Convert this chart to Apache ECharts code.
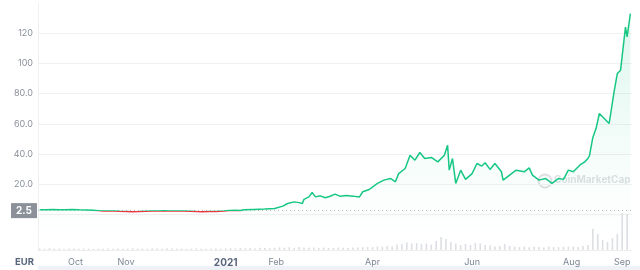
<!DOCTYPE html>
<html>
<head>
<meta charset="utf-8">
<script src="https://cdn.jsdelivr.net/npm/echarts@6/dist/echarts.min.js"></script>
<style>
html,body{margin:0;padding:0;background:#fff;}
#c{width:640px;height:270px;}
</style>
</head>
<body>
<div id="c"></div>
<script>
// ---- price (EUR) ----
var priceDates = [
'2020-09-09','2020-09-13','2020-09-17','2020-09-21','2020-09-25','2020-09-29','2020-10-03','2020-10-08','2020-10-12','2020-10-15',
'2020-10-18','2020-10-25','2020-10-28','2020-11-01','2020-11-05','2020-11-09','2020-11-13','2020-11-17','2020-11-21','2020-11-24',
'2020-11-28','2020-12-02','2020-12-06','2020-12-10','2020-12-14','2020-12-18','2020-12-22','2020-12-26','2020-12-31','2021-01-03',
'2021-01-07','2021-01-10','2021-01-12','2021-01-18','2021-01-25','2021-01-31','2021-02-05','2021-02-08','2021-02-12','2021-02-15',
'2021-02-17','2021-02-18','2021-02-21','2021-02-23','2021-02-25','2021-02-28','2021-03-03','2021-03-06','2021-03-09','2021-03-12',
'2021-03-16','2021-03-20','2021-03-24','2021-03-26','2021-03-30','2021-04-04','2021-04-08','2021-04-12','2021-04-15','2021-04-17',
'2021-04-21','2021-04-24','2021-04-27','2021-04-30','2021-05-03','2021-05-07','2021-05-11','2021-05-15','2021-05-17','2021-05-18',
'2021-05-20','2021-05-22','2021-05-25','2021-05-28','2021-06-01','2021-06-04','2021-06-05','2021-06-07','2021-06-09','2021-06-12',
'2021-06-15','2021-06-19','2021-06-20','2021-06-24','2021-06-28','2021-07-03','2021-07-06','2021-07-08','2021-07-12','2021-07-16',
'2021-07-20','2021-07-24','2021-07-27','2021-07-30','2021-08-02','2021-08-06','2021-08-09','2021-08-11','2021-08-12','2021-08-14',
'2021-08-16','2021-08-18','2021-08-21','2021-08-24','2021-08-27','2021-08-29','2021-08-31','2021-09-03','2021-09-04','2021-09-06'
];
var priceValues = [
3.1,3.0,3.2,3.0,3.1,3.2,3.0,2.9,2.7,2.5,
2.3,2.2,2.1,2.0,1.8,1.9,2.1,2.2,2.3,2.4,
2.3,2.2,2.3,2.1,1.9,1.8,1.9,2.0,2.2,2.6,
2.8,2.6,3.1,3.3,3.5,3.9,5.5,7.2,8.3,7.8,
7.2,10.0,11.6,14.5,11.6,12.3,11.0,12.0,13.4,12.1,
12.5,12.1,11.6,15.0,16.5,20.5,22.7,23.8,21.6,27.0,
30.4,39.2,35.9,41.0,37.0,37.7,34.8,39.2,45.8,29.3,
37.0,20.5,29.3,23.2,27.0,33.7,34.8,32.0,34.2,29.8,
33.7,28.2,22.7,26.0,29.3,28.2,30.8,26.0,22.7,23.8,
20.5,23.8,23.2,29.3,28.2,32.6,34.8,37.0,39.2,51.0,
57.0,66.8,63.5,60.2,81.2,93.3,95.5,124,117.6,133
];
var basePrice = 2.5;

// ---- volume (one bar every 3 days from volStart) ----
var volStart = [2020, 8, 9];
var volStepDays = 3;
var volValues = [
1.5,1.2,1.8,1.3,1.5,1.1,1.4,1.6,
1.2,1.5,1.3,1.1,1.4,1.2,1.6,1.3,1.5,1.2,
1.4,1.8,1.3,1.5,1.2,1.6,1.4,1.3,1.7,1.5,
1.3,1.5,1.2,1.4,1.6,1.3,1.2,1.5,1.4,1.3,
1.6,1.8,1.5,2.0,1.7,1.9,1.6,2.2,2.0,1.8,
2.2,2.6,2.3,2.8,2.2,3.0,2.5,2.3,2.6,2.2,2.4,
2.2,2.0,2.5,2.3,2.0,2.6,2.4,2.8,
3.0,2.8,3.5,3.2,4.0,3.6,5.5,6.0,7.5,6.5,
7.0,6.0,6.5,5.5,9.0,13.0,11.0,8.0,6.5,5.0,6.0,
5.0,7.0,6.5,5.0,4.5,3.5,4.0,6.0,4.0,3.5,
3.0,3.5,2.8,3.2,3.0,2.6,3.4,3.0,2.8,3.2,
3.2,3.5,3.0,4.0,
5.0,21.0,16.0,10.0,8.0,12.0,16.0,37.0,36.0
];

// ---- axis ----
var axisMin = [2020, 8, 8];
var axisMax = [2021, 8, 7];
var tickDates = [[2020,9,1],[2020,10,1],[2021,0,1],[2021,1,1],[2021,3,1],[2021,5,1],[2021,7,1],[2021,8,1]];
var tickNames = ['Oct','Nov','2021','Feb','Apr','Jun','Aug','Sep'];
var currency = 'EUR';

function ts(a){ return new Date(a[0], a[1], a[2]).getTime(); }
var tickTs = tickDates.map(ts);
var priceData = priceDates.map(function(d, i){
  var p = d.split('-');
  return [new Date(+p[0], +p[1]-1, +p[2]).getTime(), priceValues[i]];
});
var volData = volValues.map(function(v, i){
  return [new Date(volStart[0], volStart[1], volStart[2] + i*volStepDays).getTime(), v];
});

var font = 'Inter, "Noto Sans", sans-serif';
var chart = echarts.init(document.getElementById('c'));
var L = 38, R = 8;
chart.setOption({
  animation: false,
  textStyle: {fontFamily: font},
  grid: [
    {left: L, right: R, top: 3, height: 241.6},
    {left: L, right: R, top: 205, bottom: 20}
  ],
  xAxis: [
    {type: 'value', gridIndex: 0, min: ts(axisMin), max: ts(axisMax),
     axisLine: {show: false}, axisTick: {show: false}, axisLabel: {show: false}, splitLine: {show: false}},
    {type: 'value', gridIndex: 1, min: ts(axisMin), max: ts(axisMax),
     axisLine: {show: true, lineStyle: {color: '#eeeeee', width: 1}},
     axisTick: {show: false}, splitLine: {show: false},
     axisLabel: {
       customValues: tickTs, margin: 8, color: '#7d8594', fontSize: 9, fontFamily: font,
       formatter: function(v){
         for (var i = 0; i < tickTs.length; i++) {
           if (Math.abs(tickTs[i] - v) < 3600000) {
             return tickNames[i] === '2021' ? '{b|' + tickNames[i] + '}' : tickNames[i];
           }
         }
         return '';
       },
       rich: {b: {fontWeight: 'bold', color: '#58667e', fontSize: 10, fontFamily: font}}
     }}
  ],
  yAxis: [
    {type: 'value', gridIndex: 0, min: -20, max: 140, interval: 20,
     axisLine: {show: true, lineStyle: {color: '#f0f0f0'}}, axisTick: {show: false},
     splitLine: {show: true, showMinLine: false, showMaxLine: false, lineStyle: {color: '#f1f1f1', width: 1}},
     axisLabel: {
       margin: 5, color: '#8a8f99', fontSize: 9, fontFamily: font,
       formatter: function(v){
         if (v <= 0 || v > 120) return '';
         return v >= 100 ? String(v) : v.toFixed(1);
       }
     }},
    {type: 'value', gridIndex: 1, min: 0, max: 45,
     axisLine: {show: true, lineStyle: {color: '#f0f0f0'}}, axisTick: {show: false},
     axisLabel: {show: false}, splitLine: {show: false}}
  ],
  visualMap: {
    type: 'piecewise', show: false, seriesIndex: 0, dimension: 1,
    pieces: [{min: -1000, max: basePrice, color: '#ea3943'}, {min: basePrice, max: 1000, color: '#16c784'}]
  },
  series: [
    {type: 'line', xAxisIndex: 0, yAxisIndex: 0, data: priceData, symbol: 'none', z: 5,
     lineStyle: {width: 1.5},
     areaStyle: {origin: 'start', color: {type: 'linear', x: 0, y: 0, x2: 0, y2: 1,
       colorStops: [{offset: 0, color: 'rgba(22,199,132,0.2)'}, {offset: 0.75, color: 'rgba(22,199,132,0.03)'}, {offset: 1, color: 'rgba(22,199,132,0.0)'}]}},
     markLine: {
       silent: true, symbol: 'none',
       lineStyle: {type: [1, 3], color: '#b5b9c0', width: 1},
       label: {position: 'start', distance: 1, formatter: String(basePrice), color: '#fff',
               backgroundColor: '#8b9099', padding: [3, 5, 2, 5], fontSize: 10, fontWeight: 'bold',
               fontFamily: font},
       data: [{yAxis: basePrice}]
     }},
    {type: 'bar', xAxisIndex: 1, yAxisIndex: 1, data: volData, barWidth: 1.6,
     itemStyle: {color: '#dcdfe4'}}
  ],
  graphic: [
    {type: 'text', left: 15, top: 257, style: {text: currency, fill: '#58667e', font: 'bold 9.5px ' + font}},
    {type: 'rect', shape: {x: 38, y: 266, width: 602, height: 4}, style: {fill: '#eef1f6'}},
    {type: 'circle', shape: {cx: 545, cy: 181, r: 6.5}, style: {fill: 'none', stroke: 'rgba(170,175,185,0.4)', lineWidth: 2}},
    {type: 'text', left: 554, top: 175, style: {text: 'CoinMarketCap', fill: 'rgba(170,175,185,0.4)', font: 'bold 10px ' + font}}
  ]
});
</script>
</body>
</html>
